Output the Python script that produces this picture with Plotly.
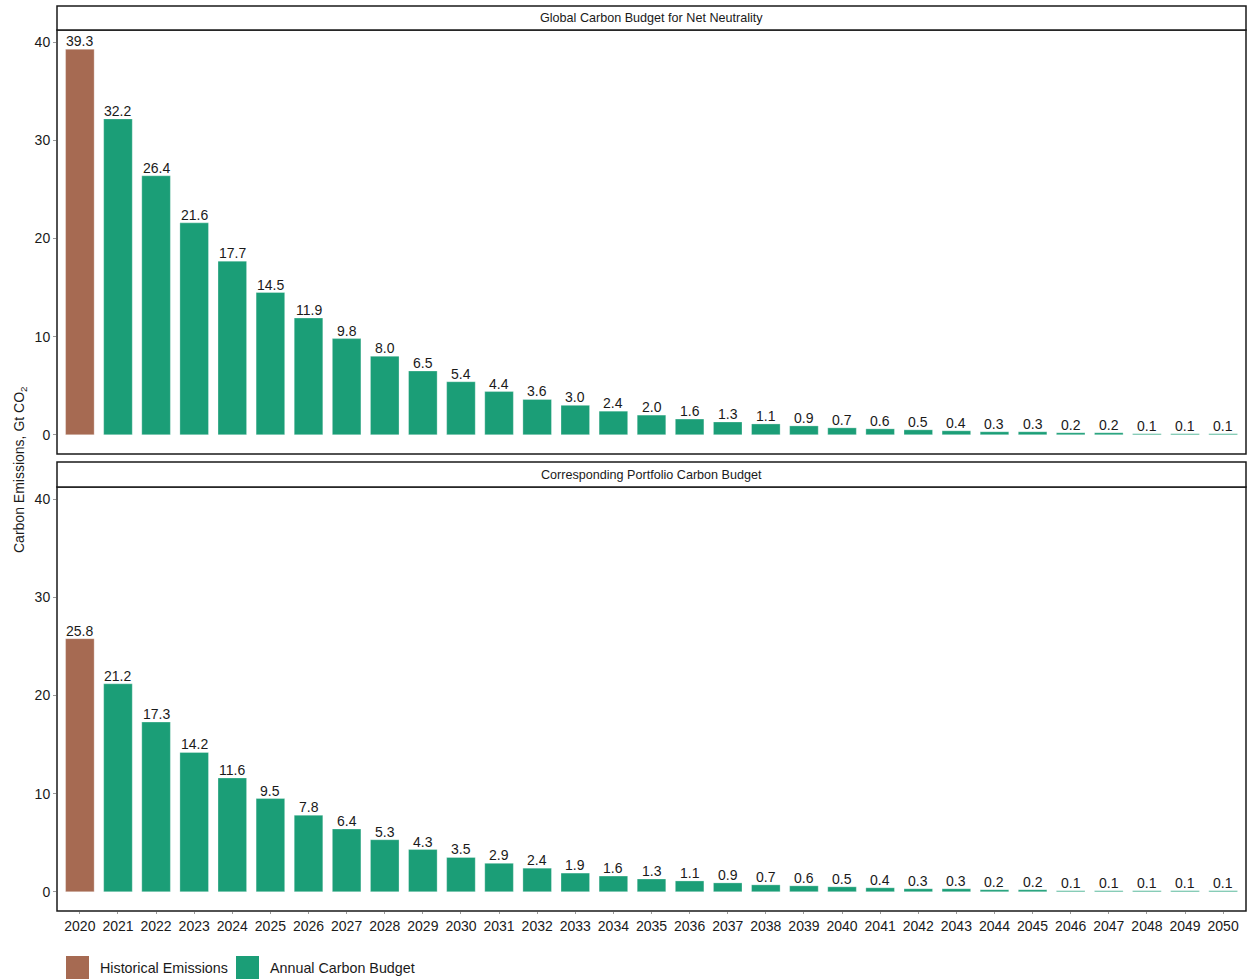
import plotly.graph_objects as go
from plotly.subplots import make_subplots

# Years and emissions (Gt CO2)
years = [str(y) for y in range(2020, 2051)]
global_budget = [39.3, 32.2, 26.4, 21.6, 17.7, 14.5, 11.9, 9.8, 8.0, 6.5, 5.4, 4.4, 3.6, 3.0,
                 2.4, 2.0, 1.6, 1.3, 1.1, 0.9, 0.7, 0.6, 0.5, 0.4, 0.3, 0.3, 0.2, 0.2, 0.1, 0.1, 0.1]
portfolio_budget = [25.8, 21.2, 17.3, 14.2, 11.6, 9.5, 7.8, 6.4, 5.3, 4.3, 3.5, 2.9, 2.4, 1.9,
                    1.6, 1.3, 1.1, 0.9, 0.7, 0.6, 0.5, 0.4, 0.3, 0.3, 0.2, 0.2, 0.1, 0.1, 0.1, 0.1, 0.1]
panel_titles = ["Global Carbon Budget for Net Neutrality", "Corresponding Portfolio Carbon Budget"]
series_names = ["Historical Emissions", "Annual Carbon Budget"]
y_ticks = [0, 10, 20, 30, 40]

HIST = "#A66A52"
BUDGET = "#1B9E77"
FONT = "Liberation Sans, Arial, sans-serif"
INK = "#1a1a1a"
W, H = 1249, 979
ML, MR, MT, MB = 57, 3, 30, 68
PW, PH = W - ML - MR, H - MT - MB


def py(pix):
    """pixel row -> paper y"""
    return (H - MB - pix) / PH


def px(pix):
    """pixel column -> paper x"""
    return (pix - ML) / PW


fig = make_subplots(rows=2, cols=1, shared_xaxes=True, vertical_spacing=0)

colors = [HIST] + [BUDGET] * (len(years) - 1)
annotations = []
for row, vals in ((1, global_budget), (2, portfolio_budget)):
    fig.add_trace(go.Bar(
        x=years, y=vals,
        marker=dict(color=colors, line=dict(color="rgba(255,255,255,0.6)", width=0.5)),
        width=0.75,
        showlegend=False,
        hoverinfo="x+y",
    ), row=row, col=1)
    xref = "x" if row == 1 else "x2"
    yref = "y" if row == 1 else "y2"
    # value labels sit on top of each bar (category axes take serial positions)
    for i, v in enumerate(vals):
        annotations.append(dict(text=f"{v:.1f}", x=i, y=v, xref=xref, yref=yref,
                                showarrow=False, xanchor="center", yanchor="bottom",
                                borderpad=0, yshift=-1,
                                font=dict(family=FONT, size=14, color=INK)))

ymax = max(global_budget)
y_range = [-0.05 * ymax, ymax * 1.05]

top_dom = [py(454), 1.0]
bot_dom = [0.0, py(487)]

axis_common = dict(showgrid=False, zeroline=False, showline=False,
                   ticks="outside", ticklen=3, tickcolor="#999",
                   tickfont=dict(family=FONT, size=14, color=INK))

fig.update_layout(
    width=W, height=H,
    margin=dict(l=ML, r=MR, t=MT, b=MB),
    plot_bgcolor="white", paper_bgcolor="white",
    bargap=0.25,
    font=dict(family=FONT, color=INK),
    xaxis=dict(axis_common, range=[-0.6, len(years) - 0.4], showticklabels=False, ticks="",
               type="category", anchor="y"),
    xaxis2=dict(axis_common, range=[-0.6, len(years) - 0.4], type="category", anchor="y2",
                ticklen=2),
    yaxis=dict(axis_common, domain=top_dom, range=y_range, tickvals=y_ticks),
    yaxis2=dict(axis_common, domain=bot_dom, range=y_range, tickvals=y_ticks),
)

shapes = []
# panel frames and facet strips
for dom, strip_top, title in ((top_dom, py(6), panel_titles[0]), (bot_dom, py(462), panel_titles[1])):
    shapes.append(dict(type="rect", xref="paper", yref="paper", x0=0, x1=1, y0=dom[0], y1=dom[1],
                       line=dict(color=INK, width=1.5), fillcolor="rgba(0,0,0,0)", layer="above"))
    shapes.append(dict(type="rect", xref="paper", yref="paper", x0=0, x1=1, y0=dom[1], y1=strip_top,
                       line=dict(color=INK, width=1.5), fillcolor="white"))
    annotations.append(dict(text=title, xref="paper", yref="paper", x=0.5, y=(dom[1] + strip_top) / 2,
                            showarrow=False, xanchor="center", yanchor="middle",
                            font=dict(family=FONT, size=12.6, color=INK)))

# y axis title
annotations.append(dict(text="Carbon Emissions, Gt CO<sub>2</sub>", xref="paper", yref="paper",
                        x=px(20), y=py(470), textangle=-90, showarrow=False,
                        xanchor="center", yanchor="middle",
                        font=dict(family=FONT, size=14, color=INK)))

# legend keys
for (x0, x1, tx), name, col in zip(((66, 89, 98), (236, 259, 268)), series_names, (HIST, BUDGET)):
    shapes.append(dict(type="rect", xref="paper", yref="paper", x0=px(x0), x1=px(x1),
                       y0=py(979), y1=py(956), line=dict(width=0), fillcolor=col))
    annotations.append(dict(text=name, xref="paper", yref="paper", x=px(tx), y=py(968),
                            showarrow=False, xanchor="left", yanchor="middle",
                            font=dict(family=FONT, size=14.3, color=INK)))

fig.update_layout(shapes=shapes, annotations=annotations)

fig.write_html("out.html")
